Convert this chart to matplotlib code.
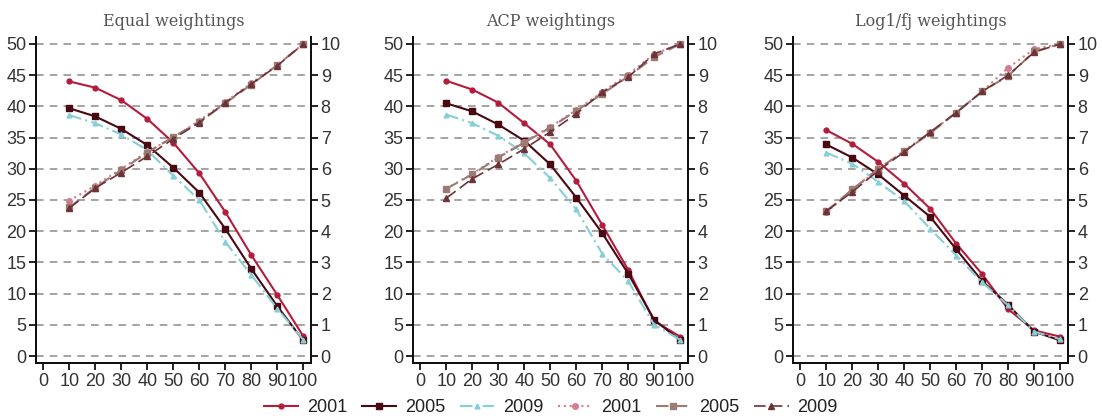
import matplotlib
matplotlib.use("Agg")
import matplotlib.pyplot as plt
from matplotlib import font_manager

x = [10, 20, 30, 40, 50, 60, 70, 80, 90, 100]
titles = ["Equal weightings", "ACP weightings", "Log1/fj weightings"]

# left axis (solid-ish lines), one list per panel
left_2001 = [
    [44.0, 43.0, 41.0, 38.0, 34.2, 29.3, 23.1, 16.2, 9.8, 3.2],
    [44.1, 42.7, 40.6, 37.3, 33.9, 28.1, 21.0, 13.8, 5.6, 3.1],
    [36.2, 34.0, 31.1, 27.6, 23.6, 18.0, 13.1, 7.5, 4.1, 3.1],
]
left_2005 = [
    [39.7, 38.4, 36.4, 33.8, 30.2, 26.2, 20.4, 14.0, 8.0, 2.5],
    [40.5, 39.2, 37.1, 34.5, 30.7, 25.4, 19.7, 13.2, 5.8, 2.5],
    [33.9, 31.8, 29.1, 25.7, 22.3, 17.1, 12.0, 8.2, 3.9, 2.5],
]
left_2009 = [
    [38.6, 37.3, 35.5, 33.0, 28.9, 25.0, 18.3, 13.0, 7.6, 2.6],
    [38.7, 37.3, 35.3, 32.5, 28.5, 23.5, 16.4, 12.0, 5.0, 2.6],
    [32.6, 30.8, 27.9, 24.8, 20.4, 16.1, 11.8, 8.1, 3.9, 2.7],
]

# right axis (0-10 scale)
right_2001 = [
    [4.98, 5.46, 6.0, 6.54, 7.0, 7.54, 8.14, 8.74, 9.32, 10.0],
    [5.36, 5.84, 6.38, 6.86, 7.34, 7.88, 8.46, 9.02, 9.68, 10.0],
    [4.6, 5.32, 5.98, 6.58, 7.16, 7.8, 8.48, 9.24, 9.84, 10.0],
]
right_2005 = [
    [4.76, 5.4, 5.96, 6.52, 7.02, 7.5, 8.1, 8.7, 9.32, 10.0],
    [5.36, 5.82, 6.36, 6.84, 7.32, 7.86, 8.4, 8.96, 9.58, 10.0],
    [4.64, 5.34, 6.0, 6.56, 7.14, 7.8, 8.48, 8.98, 9.76, 10.0],
]
right_2009 = [
    [4.74, 5.38, 5.88, 6.4, 6.96, 7.48, 8.12, 8.72, 9.3, 10.0],
    [5.06, 5.68, 6.14, 6.64, 7.18, 7.76, 8.46, 8.94, 9.68, 10.0],
    [4.64, 5.26, 5.94, 6.54, 7.18, 7.8, 8.48, 9.0, 9.74, 10.0],
]

tick_font = "Liberation Sans Narrow"
names = {f.name for f in font_manager.fontManager.ttflist}
if tick_font not in names:
    tick_font = "Liberation Sans"
plt.rcParams["font.family"] = [tick_font, "DejaVu Sans"]

c01, c05, c09 = "#b41c3c", "#4a0812", "#86cfd6"
r01, r05, r09 = "#d37c8c", "#9c7b74", "#6e3338"

fig = plt.figure(figsize=(11.02, 4.18), dpi=100)
lefts = [36, 413, 793]
width = 275
handles = None
for i in range(3):
    ax = fig.add_axes([lefts[i] / 1102, 55 / 418, width / 1102, 326 / 418])
    ax2 = ax.twinx()
    ax.set_xlim(-2.8, 103)
    ax.set_ylim(-1.12, 51.12)
    ax2.set_ylim(-1.12 / 5, 51.12 / 5)
    for v in range(0, 51, 5):
        ax.axhline(v, color="#8c8c8c", lw=1.1, ls=(0, (5, 4)), zorder=0)

    h1, = ax.plot(x, left_2001[i], color=c01, lw=1.5, marker="o", ms=3.5, label="2001")
    h2, = ax.plot(x, left_2005[i], color=c05, lw=1.5, marker="s", ms=5, label="2005")
    h3, = ax.plot(x, left_2009[i], color=c09, lw=1.5, ls=(0, (6, 2, 1, 2)), marker="^", ms=3.5, label="2009")
    h4, = ax2.plot(x, right_2001[i], color=r01, lw=1.5, ls=(0, (1, 1.8)), marker="o", ms=4, label="2001")
    h5, = ax2.plot(x, right_2005[i], color=r05, lw=1.5, ls=(0, (6, 3)), marker="s", ms=5, label="2005")
    h6, = ax2.plot(x, right_2009[i], color=r09, lw=1.2, ls=(0, (7, 3)), marker="^", ms=4, label="2009")
    handles = [h1, h2, h3, h4, h5, h6]

    ax.set_xticks(range(0, 101, 10))
    ax.set_yticks(range(0, 51, 5))
    ax2.set_yticks(range(0, 11))
    for a in (ax, ax2):
        a.spines["top"].set_visible(False)
        for s in ("left", "right", "bottom"):
            a.spines[s].set_linewidth(1.4)
            a.spines[s].set_color("#111111")
        a.tick_params(labelsize=13, colors="#111111", labelcolor="#333333",
                      width=1.3, length=5, pad=2)
    ax.set_title(titles[i], family="DejaVu Serif", fontsize=11.5, color="#555555", pad=8)

fig.legend(handles=handles, labels=[h.get_label() for h in handles], loc="lower center",
           bbox_to_anchor=(0.5, -0.035), ncol=6, frameon=False, fontsize=13,
           handlelength=1.9, columnspacing=0.8, handletextpad=0.5, labelcolor="#222222")

fig.savefig("out.png", dpi=100)
